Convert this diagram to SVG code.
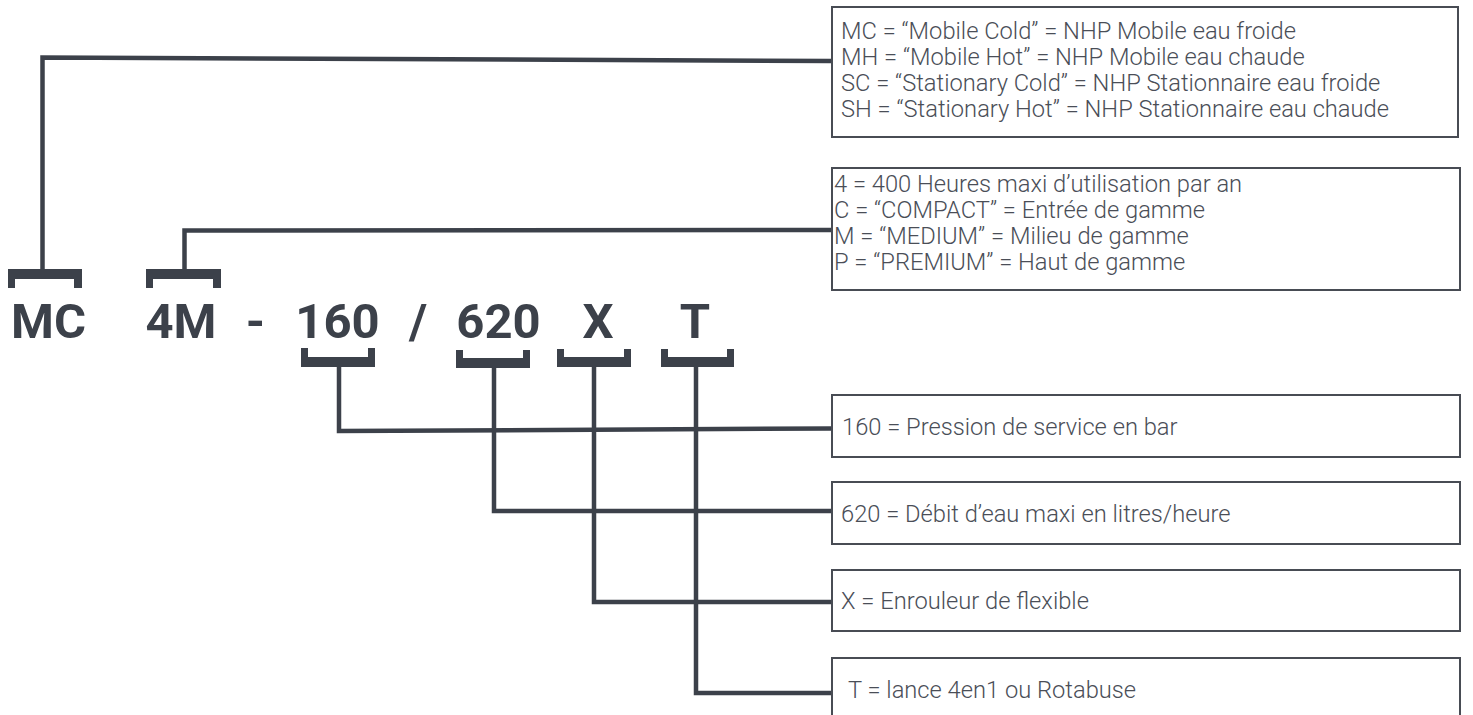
<svg xmlns="http://www.w3.org/2000/svg" width="1473" height="715" viewBox="0 0 1473 715">
<style>
.big{font-family:Roboto,"Liberation Sans",sans-serif;font-weight:700;font-size:49px;fill:#3c414a;text-anchor:middle}
.box{fill:#fff;stroke:#484c54;stroke-width:2}
.t{font-family:Roboto,"Liberation Sans",sans-serif;font-weight:300;font-size:23.7px;fill:#4a4e57}
.br{fill:#3c414a}
.ln{fill:none;stroke:#3c414a;stroke-width:4.5}
</style>
<rect width="1473" height="715" fill="#fff"/>
<g id="connectors">
<polyline class="ln" points="42.5,270 42.5,57.5 831,61"/>
<polyline class="ln" points="184.5,270 184.5,230.5 831,230"/>
<polyline class="ln" points="339,366 339,431 831,428.5"/>
<polyline class="ln" points="494,366 494,511 831,511"/>
<polyline class="ln" points="594,366 594,602 831,602"/>
<polyline class="ln" points="696,366 696,693 831,693"/>
</g>
<g id="code">
<text class="big" x="48.5" y="338">MC</text>
<text class="big" x="181" y="338">4M</text>
<text class="big" x="255.5" y="338">-</text>
<text class="big" x="337.5" y="338">160</text>
<text class="big" x="418" y="338">/</text>
<text class="big" x="498.5" y="338">620</text>
<text class="big" x="598" y="338">X</text>
<text class="big" x="695" y="338">T</text>
</g>
<g id="brackets">
<path class="br" d="M8,269H82V288H74V279H15V288H8Z"/>
<path class="br" d="M146,269H221V288H213V279H153V288H146Z"/>
<path class="br" d="M301,367H375V348H368V357H308V348H301Z"/>
<path class="br" d="M456,368H530V350H523V358H463V350H456Z"/>
<path class="br" d="M557,367H631V349H624V357H564V349H557Z"/>
<path class="br" d="M661,367H734V349H727V357H668V349H661Z"/>
</g>
<g id="box-type">
<rect class="box" x="832" y="7" width="626" height="130"/>
<text class="t" x="841" y="39">MC = “Mobile Cold” = NHP Mobile eau froide</text>
<text class="t" x="841" y="65">MH = “Mobile Hot” = NHP Mobile eau chaude</text>
<text class="t" x="841" y="91">SC = “Stationary Cold” = NHP Stationnaire eau froide</text>
<text class="t" x="841" y="117">SH = “Stationary Hot” = NHP Stationnaire eau chaude</text>
</g>
<g id="box-range">
<rect class="box" x="832" y="168" width="628" height="122"/>
<text class="t" x="834" y="192">4 = 400 Heures maxi d’utilisation par an</text>
<text class="t" x="834" y="218">C = “COMPACT” = Entrée de gamme</text>
<text class="t" x="834" y="244">M = “MEDIUM” = Milieu de gamme</text>
<text class="t" x="834" y="270">P = “PREMIUM” = Haut de gamme</text>
</g>
<g id="box-pressure">
<rect class="box" x="832" y="395" width="628" height="62"/>
<text class="t" x="842" y="434.5">160 = Pression de service en bar</text>
</g>
<g id="box-flow">
<rect class="box" x="832" y="482" width="628" height="62"/>
<text class="t" x="841" y="521.5">620 = Débit d’eau maxi en litres/heure</text>
</g>
<g id="box-reel">
<rect class="box" x="832" y="570" width="628" height="61"/>
<text class="t" x="841" y="609">X = Enrouleur de flexible</text>
</g>
<g id="box-lance">
<rect class="box" x="832" y="658" width="628" height="62"/>
<text class="t" x="848" y="697.5">T = lance 4en1 ou Rotabuse</text>
</g>
</svg>
